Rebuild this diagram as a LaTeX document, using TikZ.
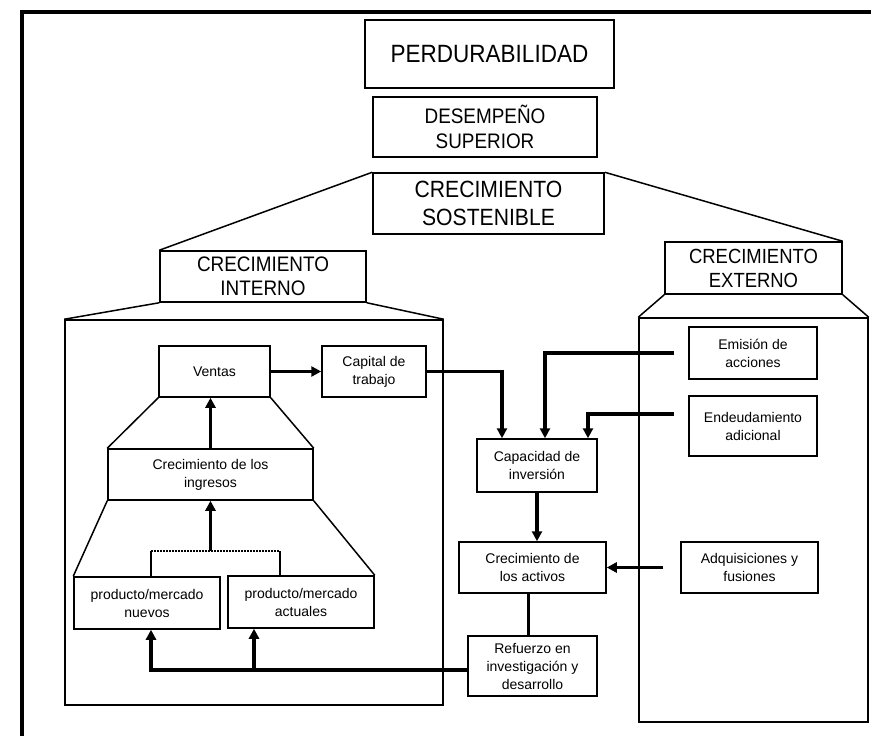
\documentclass[tikz,border=0pt]{standalone}
\usepackage{fontspec}
\setmainfont{Liberation Sans}
\newfontfamily\titlefont[FakeStretch=0.9]{Liberation Sans}
\usetikzlibrary{arrows.meta}
\begin{document}
\begin{tikzpicture}[x=1pt,y=-1pt,
  box/.style={draw, line width=1.5pt, inner sep=0pt, align=center},
  small/.style={font=\fontsize{14}{18}\selectfont},
  arr/.style={line width=3.3pt, -{Triangle[width=10pt,length=10pt]}},
  thickln/.style={line width=3.3pt},
  thinln/.style={line width=1.5pt}]
\useasboundingbox[fill=white] (0,0) rectangle (871,736);
% outer frame
\draw[line width=4pt] (22,736) -- (22,12) -- (871,12);
% title boxes
\node[box, minimum width=249pt, minimum height=68pt, font=\titlefont\fontsize{25}{28}\selectfont] (perd) at (489.5,54) {PERDURABILIDAD};
\node[box, minimum width=224pt, minimum height=60pt, font=\titlefont\fontsize{21}{25}\selectfont] (ds) at (485,127) {DESEMPEÑO\\SUPERIOR};
\node[box, minimum width=231pt, minimum height=61pt, font=\titlefont\fontsize{23.5}{28}\selectfont] (cs) at (488.5,203.5) {CRECIMIENTO\\SOSTENIBLE};
\node[box, minimum width=206pt, minimum height=51pt, font=\titlefont\fontsize{21}{24}\selectfont] (ci) at (263,276.5) {CRECIMIENTO\\INTERNO};
\node[box, minimum width=177pt, minimum height=52pt, font=\titlefont\fontsize{20.5}{24}\selectfont] (ce) at (753.5,268) {CRECIMIENTO\\EXTERNO};
% big boxes
\node[box, minimum width=378pt, minimum height=385pt] (ib) at (254,512.5) {};
\node[box, minimum width=229pt, minimum height=404pt] (eb) at (753.5,520) {};
% trapezoid lines
\draw[thinln] (cs.north west) -- (ci.north west);
\draw[thinln] (cs.north east) -- (ce.north east);
\draw[thinln] (ci.south west) -- (ib.north west);
\draw[thinln] (ci.south east) -- (ib.north east);
\draw[thinln] (ce.south west) -- (eb.north west);
\draw[thinln] (ce.south east) -- (eb.north east);
% internal boxes
\node[box, small, minimum width=111pt, minimum height=51pt] (ventas) at (214.5,371.5) {Ventas};
\node[box, small, minimum width=104pt, minimum height=51pt] (capital) at (374,371.5) {Capital de\\trabajo};
\node[box, small, minimum width=205pt, minimum height=51pt] (cdi) at (210.5,474.5) {Crecimiento de los\\ingresos};
\node[box, small, minimum width=146pt, minimum height=52pt] (nuevos) at (147,603) {producto/mercado\\nuevos};
\node[box, small, minimum width=146pt, minimum height=52pt] (actuales) at (301,602) {producto/mercado\\actuales};
\draw[thinln] (ventas.south west) -- (cdi.north west);
\draw[thinln] (ventas.south east) -- (cdi.north east);
\draw[thinln] (cdi.south west) -- (nuevos.north west);
\draw[thinln] (cdi.south east) -- (actuales.north east);
% middle boxes
\node[box, small, minimum width=120pt, minimum height=53pt] (capacidad) at (537,465.5) {Capacidad de\\inversión};
\node[box, small, minimum width=147pt, minimum height=51pt] (activos) at (532.5,567.5) {Crecimiento de\\los activos};
\node[box, small, minimum width=129pt, minimum height=60pt] (refuerzo) at (532.5,666) {Refuerzo en\\investigación y\\desarrollo};
% external boxes
\node[box, small, minimum width=128pt, minimum height=52pt] (emision) at (753,353) {Emisión de\\acciones};
\node[box, small, minimum width=128pt, minimum height=60pt] (endeud) at (753,426) {Endeudamiento\\adicional};
\node[box, small, minimum width=137pt, minimum height=51pt] (adq) at (749.5,567.5) {Adquisiciones y\\fusiones};
% bracket
\coordinate (bl) at (151,551);
\coordinate (br) at (280,551);
\draw[thinln] (nuevos.north -| bl) -- (bl);
\draw[thinln] (actuales.north -| br) -- (br);
\draw[line width=2pt, dash pattern=on 1.5pt off 1.5pt] (bl) -- (br);
% arrows
\draw[arr] (ventas.east) -- (capital.west);
\draw[arr] (cdi.north) -- (cdi.north |- ventas.south);
\draw[arr] (cdi.south |- bl) -- (cdi.south);
\draw[arr] (capital.east) -| ([xshift=-35pt]capacidad.north);
\draw[arr] ([xshift=-14pt]emision.west) -| ([xshift=8pt]capacidad.north);
\draw[arr] ([xshift=-14pt,yshift=12pt]endeud.west) -| ([xshift=51pt]capacidad.north);
\draw[arr] (capacidad.south) -- (capacidad.south |- activos.north);
\draw[arr] ([xshift=-17pt]adq.west) -- (activos.east);
\draw[thickln] ([xshift=-4pt]activos.south) -- ([xshift=-4pt]refuerzo.north);
\coordinate (fbL) at (151,670);
\coordinate (fbM) at (254,670);
\draw[arr] ([yshift=-4pt]refuerzo.west) -- (fbL) -- (nuevos.south -| fbL);
\draw[arr] (fbM) -- (actuales.south -| fbM);
\end{tikzpicture}
\end{document}
